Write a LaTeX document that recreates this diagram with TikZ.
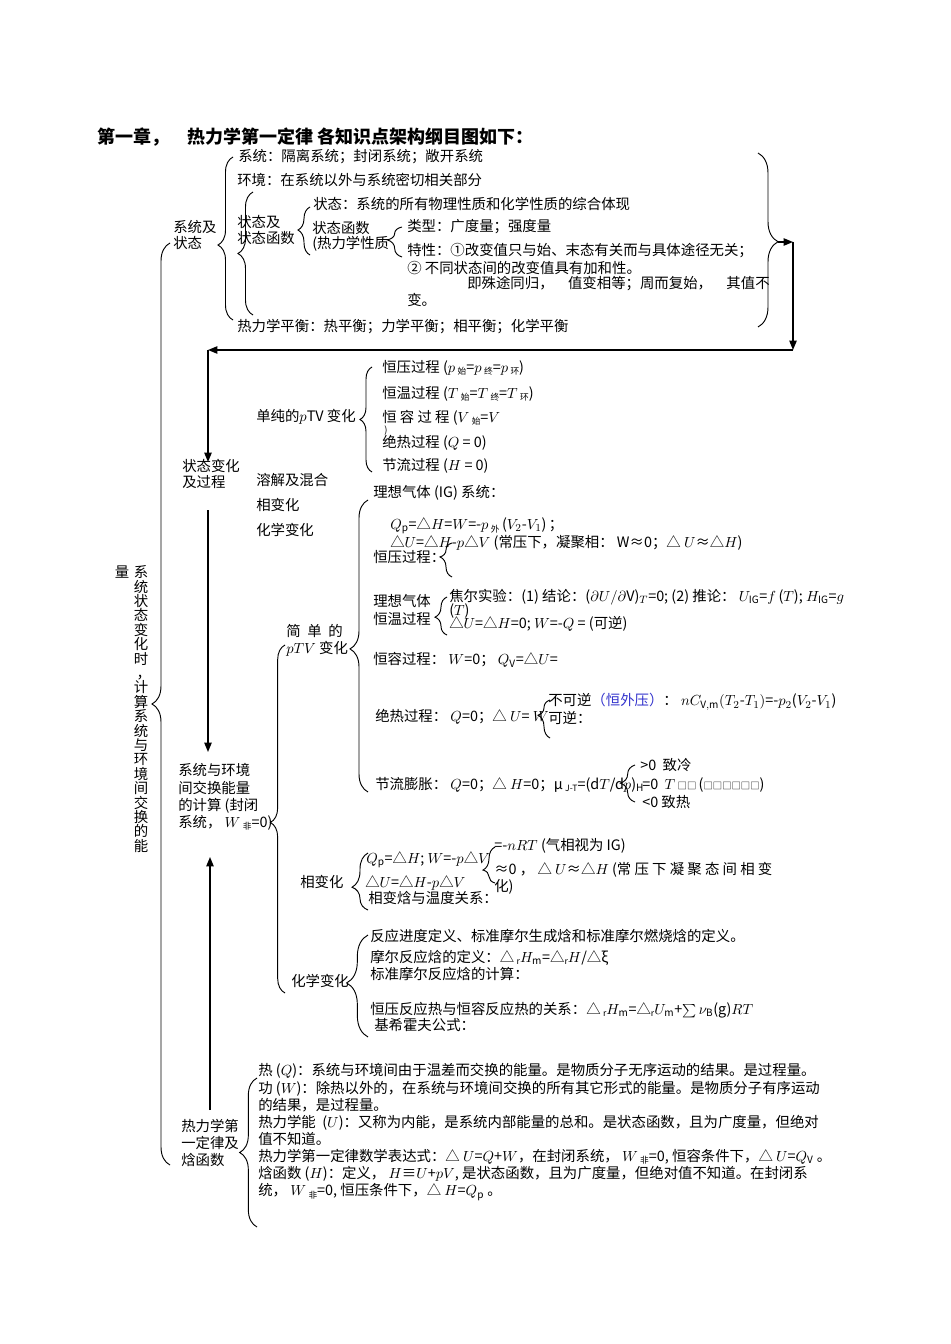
\documentclass[tikz,border=0pt]{standalone}
\usepackage{fontspec}
\setmainfont{Noto Sans CJK SC}
\usepackage{tikz}
\usetikzlibrary{arrows.meta, decorations.pathreplacing, positioning}
\definecolor{thd-blue}{HTML}{3333CC}
\newcommand\subtxt[1]{\raisebox{-0.3ex}{\fontsize{6.5}{7}\selectfont #1}}

\begin{document}
\begin{tikzpicture}[
    x=0.75pt, y=-0.75pt,
    txt/.style={
        anchor=west, inner sep=0pt, align=left,
        font=\fontsize{10.8}{12.6}\selectfont
    },
    brc/.style n args={2}{
        decorate, line width=0.7pt,
        decoration={brace, amplitude=#1, aspect=#2}
    },
    arr/.style={-{Triangle[length=7pt,width=5.5pt]}, line width=1pt}
    ]
    \useasboundingbox (0,0) rectangle (950,1344);

    % title
    \node[txt, font=\bfseries\fontsize{13.5}{15}\selectfont] (title) at (97,137) {第一章，\quad 热力学第一定律 各知识点架构纲目图如下：};

    % system and state
    \node[txt] (sysst) at (173,235) {系统及\\状态};
    \node[txt] (sys) at (238,157) {系统：隔离系统；封闭系统；敞开系统};
    \node[txt] (env) at (237,180) {环境：在系统以外与系统密切相关部分};
    \node[txt] (stfn) at (237,230) {状态及\\状态函数};
    \node[txt] (st) at (313,204) {状态：系统的所有物理性质和化学性质的综合体现};
    \node[txt, font=\fontsize{10.8}{11.3}\selectfont] (stf) at (312,236) {状态函数\\(热力学性质};
    \node[txt] (typ) at (407,227) {类型：广度量；强度量};
    \node[txt] (feat1) at (407,251) {特性：①改变值只与始、末态有关而与具体途径无关；};
    \node[txt] (feat2) at (407,268) {② 不同状态间的改变值具有加和性。};
    \node[txt] (feat3) at (467,284) {即殊途同归，\quad 值变相等；周而复始，\quad 其值不};
    \node[txt] (feat4) at (407,300) {变。};
    \node[txt] (eqm) at (237,327) {热力学平衡：热平衡；力学平衡；相平衡；化学平衡};

    \draw[brc={11.25pt}{0.46}] (233,320) -- (233,157);
    \draw[brc={11.25pt}{0.5}] (253,315) -- (253,192);
    \draw[brc={9pt}{0.52}] (310,255) -- (310,207);
    \draw[brc={11pt}{0.57}] (402,257) -- (402,227);
    \draw[brc={15pt}{0.51}] (758,153) -- (758,327);

    % back-arrow to state change
    \coordinate (b5tip) at (778,242);
    \coordinate (c1) at (793,242);
    \coordinate (c2) at (793,350);
    \coordinate (c3) at (208,350);
    \coordinate (c4) at (208,462);
    \draw[arr] (b5tip) -- (c1);
    \draw[arr] (c1) -- (c2);
    \draw[arr] (c2) -- (c3);
    \draw[arr] (c3) -- (c4);

    % state change and process
    \node[txt] (scp) at (182,474) {状态变化\\及过程};
    \node[txt] (pure) at (256,417) {单纯的$p$TV 变化};
    \node[txt] (p1) at (382,368) {恒压过程 ($p$\,\subtxt{始}=$p$\,\subtxt{终}=$p$\,\subtxt{环})};
    \node[txt] (p2) at (382,394) {恒温过程 ($T$\,\subtxt{始}=$T$\,\subtxt{终}=$T$\,\subtxt{环})};
    \node[txt] (p3) at (382,418) {恒\ 容\ 过\ 程\ ($V$\,\subtxt{始}=$V$};
    \node[txt, font=\fontsize{7}{8}\selectfont] (p3b) at (384,431) {)};
    \node[txt] (p4) at (382,443) {绝热过程 ($Q$ = 0)};
    \node[txt] (p5) at (382,466) {节流过程 ($H$ = 0)};
    \node[txt] (mix) at (256,480) {溶解及混合};
    \node[txt] (phs) at (256,505) {相变化};
    \node[txt] (chm) at (256,530) {化学变化};
    \draw[brc={9pt}{0.5}] (372,472) -- (372,367);

    % exchange of energy
    \coordinate (a1s) at (208,510);
    \coordinate (a1e) at (208,752);
    \draw[arr] (a1s) -- (a1e);
    \node[txt, font=\fontsize{10.8}{12.8}\selectfont] (exch) at (178,797) {系统与环境\\间交换能量\\的计算 (封闭\\系统，\ $W$\,\subtxt{非}=0)};
    \coordinate (a2s) at (210,1110);
    \coordinate (a2e) at (210,857);
    \draw[arr] (a2s) -- (a2e);

    % vertical label
    \node[txt, anchor=center] (vq) at (122,572) {量};
    \node[txt, anchor=center, align=center, font=\fontsize{10.8}{10.8}\selectfont] (vtxt) at (141,709) {系\\统\\状\\态\\变\\化\\时\\\hspace*{0.4em}，\hspace*{-0.4em}\\计\\算\\系\\统\\与\\环\\境\\间\\交\\换\\的\\能};
    \draw[brc={13.5pt}{0.5}] (170,1165) -- (170,243);

    % simple pTV
    \draw[brc={11pt}{0.49}] (285,993) -- (285,645);
    \node[txt] (simp) at (286,640) {简\hspace{5pt}单\hspace{5pt}的\\$pTV$ 变化};
    \draw[brc={13.5pt}{0.49}] (368,792) -- (368,500);
    \node[txt] (ig) at (373,493) {理想气体 (IG) 系统：};
    \node[txt] (qp) at (390,526) {$Q_{\mathrm p}$=△$H$=$W$=-$p$\,\subtxt{外}\,($V_2$-$V_1$)\,；};
    \node[txt] (du) at (390,543) {△$U$=△$H$-$p$△$V$ (常压下，凝聚相：\ W≈0；△ $U$≈△$H$)};
    \node[txt] (cp) at (373,557) {恒压过程：};
    \draw[brc={9pt}{0.59}] (452,577) -- (452,543);
    \node[txt, font=\fontsize{10.8}{12.8}\selectfont] (ct) at (373,610) {理想气体\\恒温过程};
    \draw[brc={9pt}{0.47}] (447,635) -- (447,597);
    \node[txt] (joule) at (449,597) {焦尔实验：(1) 结论：($\partial U/\partial$V)$_T$=0; (2) 推论：\ $U_{\mathrm{IG}}$=$f$\,($T$); $H_{\mathrm{IG}}$=$g$};
    \node[txt] (jt) at (449,611) {($T$)};
    \node[txt] (jdu) at (449,624) {△$U$=△$H$=0; $W$=-$Q$ = (可逆)};
    \node[txt] (cv) at (373,660) {恒容过程：\ $W$=0；\ $Q_{\mathrm V}$=△$U$=};
    \node[txt] (ad) at (375,717) {绝热过程：\ $Q$=0；△ $U$= $W$};
    \draw[brc={9pt}{0.6}] (550,738) -- (550,700);
    \node[txt] (irr) at (548,702) {不可逆\textcolor{thd-blue}{（恒外压）}：\ $nC_{\mathrm{V,m}}(T_2$-$T_1)$=-$p_2$($V_2$-$V_1$)};
    \node[txt] (rev) at (548,718) {可逆：};
    \node[txt] (thr) at (375,785) {节流膨胀：\ $Q$=0；△ $H$=0；μ\,\subtxt{J-T}=(d$T$/d$p$)$_{\mathrm H}$};
    \draw[brc={11pt}{0.51}] (635,802) -- (635,765);
    \node[txt] (gt) at (640,765) {>0\ \ 致冷};
    \node[txt] (eqz) at (642,785) {=0\ \ $T$\,{\scriptsize □□}\,({\scriptsize □□□□□□})};
    \node[txt] (lt) at (642,802) {<0 致热};

    % phase change
    \node[txt] (phase) at (300,882) {相变化};
    \draw[brc={12pt}{0.4}] (368,910) -- (368,853);
    \node[txt] (pqp) at (366,860) {$Q_{\mathrm p}$=△$H$; $W$=-$p$△$V$};
    \node[txt] (pdu) at (365,883) {△$U$=△$H$-$p$△$V$};
    \node[txt] (pdh) at (368,898) {相变焓与温度关系：};
    \draw[brc={9pt}{0.36}] (495,883) -- (495,847);
    \node[txt] (nrt) at (494,846) {=-$nRT$ (气相视为 IG)};
    \node[txt, font=\fontsize{10.8}{12.8}\selectfont] (apx) at (494,878) {≈0\ ，\ △ $U$≈△$H$ (常\ 压\ 下\ 凝\ 聚\ 态\ 间\ 相\ 变\\化)};

    % chemical change
    \node[txt] (chem) at (291,981) {化学变化};
    \draw[brc={16pt}{0.53}] (368,1037) -- (368,935);
    \node[txt] (xi) at (370,936) {反应进度定义、标准摩尔生成焓和标准摩尔燃烧焓的定义。};
    \node[txt] (mrh) at (370,958) {摩尔反应焓的定义：△\,\subtxt{r}$H_{\mathrm m}$=△\subtxt{r}$H$/△ξ};
    \node[txt] (smr) at (370,974) {标准摩尔反应焓的计算：};
    \node[txt] (qpv) at (370,1010) {恒压反应热与恒容反应热的关系：△\,\subtxt{r}$H_{\mathrm m}$=△\subtxt{r}$U_{\mathrm m}$+$\sum\nu_{\mathrm B}$(g)$RT$};
    \node[txt] (kir) at (374,1025) {基希霍夫公式：};

    % first law and enthalpy
    \node[txt, font=\fontsize{10.8}{12.8}\selectfont] (law) at (181,1143) {热力学第\\一定律及\\焓函数};
    \draw[brc={13pt}{0.5}] (257,1227) -- (257,1078);
    \node[txt, font=\fontsize{10.8}{12.85}\selectfont] (defs) at (258,1132) {热 ($Q$)：系统与环境间由于温差而交换的能量。是物质分子无序运动的结果。是过程量。\\
        功 ($W$)：除热以外的，在系统与环境间交换的所有其它形式的能量。是物质分子有序运动\\
        的结果，是过程量。\\
        热力学能\ \ ($U$)：又称为内能，是系统内部能量的总和。是状态函数，且为广度量，但绝对\\
        值不知道。\\
        热力学第一定律数学表达式：△ $U$=$Q$+$W$，在封闭系统，\ $W$\,\subtxt{非}=0, 恒容条件下，△ $U$=$Q_{\mathrm V}$ 。\\
        焓函数 ($H$)：定义，\ $H$≡$U$+$pV$, 是状态函数，且为广度量，但绝对值不知道。在封闭系\\
        统，\ $W$\,\subtxt{非}=0, 恒压条件下，△ $H$=$Q_{\mathrm p}$ 。};
\end{tikzpicture}
\end{document}
